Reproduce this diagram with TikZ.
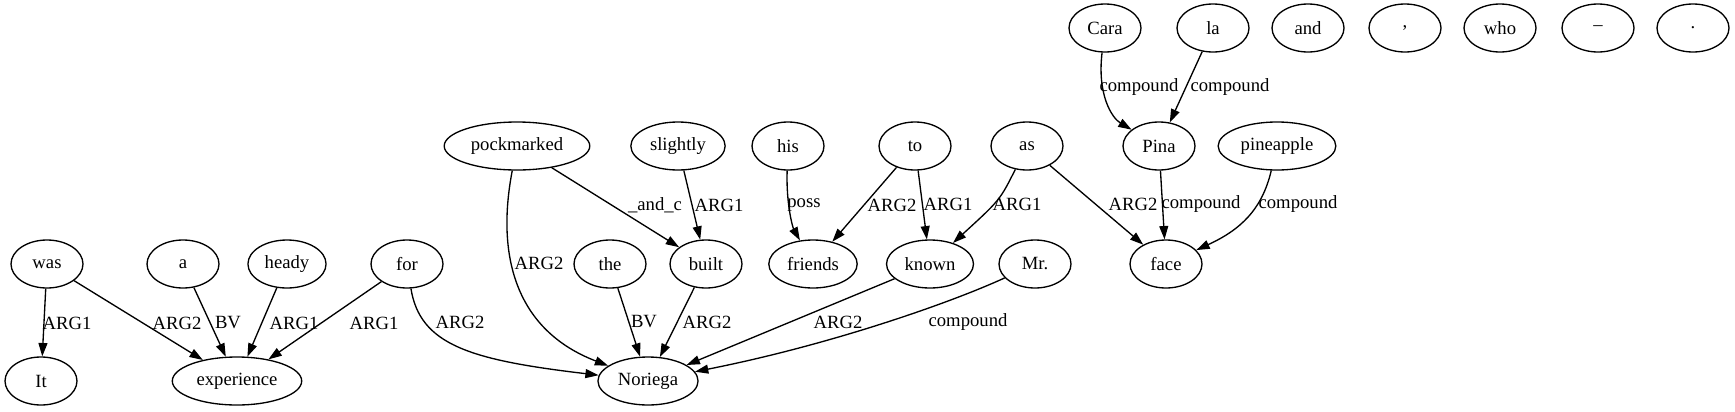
\documentclass[tikz,border=0pt]{standalone}
\usepackage{fontspec}
\setmainfont{Liberation Serif}
\usetikzlibrary{shapes.geometric}
\usetikzlibrary{arrows.meta}

\begin{document}
\begin{tikzpicture}[x=0.75pt,y=-0.75pt,
    word/.style={draw,ellipse,line width=1pt,minimum width=54pt,minimum height=36pt,
      inner xsep=4pt,inner ysep=2pt,font=\fontsize{14}{16}\selectfont},
    rel/.style={line width=1pt,-{Triangle[length=10pt,width=6.7pt]}},
    lbl/.style={inner sep=0pt,font=\fontsize{14}{16}\selectfont}]
    \useasboundingbox (0,0) rectangle (1735,411);
    \node[word] (Cara) at (1105,28) {Cara};
    \node[word] (la) at (1213,28) {la};
    \foreach \n/\w/\x in {and/and/1308,comma/{,}/1405,who/who/1500,dash/–/1598,dot/./1693}
    {
      \node[word] (\n) at (\x,28) {\w};
    }
    \node[word] (pockmarked) at (517,146) {pockmarked};
    \node[word] (slightly) at (678,146) {slightly};
    \node[word] (his) at (788,146) {his};
    \node[word] (to) at (915,146) {to};
    \node[word] (as) at (1027,146) {as};
    \node[word] (Pina) at (1159,146) {Pina};
    \node[word] (pineapple) at (1277,146) {pineapple};
    \node[word] (was) at (47,264) {was};
    \node[word] (a) at (183,264) {a};
    \node[word] (heady) at (287,264) {heady};
    \node[word] (for) at (407,264) {for};
    \node[word] (the) at (610,264) {the};
    \node[word] (built) at (706,264) {built};
    \node[word] (friends) at (813,264) {friends};
    \node[word] (known) at (930,264) {known};
    \node[word] (Mr) at (1035,264) {Mr.};
    \node[word] (face) at (1166,264) {face};
    \node[word] (It) at (41,381) {It};
    \node[word] (experience) at (237,381) {experience};
    \node[word] (Noriega) at (648,381) {Noriega};

    \draw[rel] (was) -- (It) node[lbl] at (67,323) {ARG1};
    \draw[rel] (was) -- (experience) node[lbl] at (177,323) {ARG2};
    \draw[rel] (a) -- (experience) node[lbl] at (228,323) {BV};
    \draw[rel] (heady) -- (experience) node[lbl] at (294,323) {ARG1};
    \draw[rel] (for) -- (experience) node[lbl] at (374,323) {ARG1};
    \draw[rel] (for) .. controls (420,345) and (470,360) .. (Noriega) node[lbl] at (460,322) {ARG2};
    \draw[rel] (pockmarked) .. controls (496,255) and (515,330) .. (Noriega) node[lbl] at (539,263) {ARG2};
    \draw[rel] (pockmarked) -- (built) node[lbl] at (655,205) {\_and\_c};
    \draw[rel] (slightly) -- (built) node[lbl] at (719,205) {ARG1};
    \draw[rel] (his) .. controls (786,205) and (793,228) .. (friends) node[lbl] at (804,205) {poss};
    \draw[rel] (to) -- (friends) node[lbl] at (892,205) {ARG2};
    \draw[rel] (to) -- (known) node[lbl] at (948,204) {ARG1};
    \draw[rel] (as) .. controls (1000,200) .. (known) node[lbl] at (1017,204) {ARG1};
    \draw[rel] (as) -- (face) node[lbl] at (1133,204) {ARG2};
    \draw[rel] (Cara) .. controls (1097,95) and (1112,118) .. (Pina) node[lbl] at (1139,87) {compound};
    \draw[rel] (la) -- (Pina) node[lbl] at (1230,87) {compound};
    \draw[rel] (Pina) -- (face) node[lbl] at (1201,204) {compound};
    \draw[rel] (pineapple) .. controls (1262,210) and (1240,230) .. (face) node[lbl] at (1298,204) {compound};
    \draw[rel] (the) -- (Noriega) node[lbl] at (644,322) {BV};
    \draw[rel] (built) -- (Noriega) node[lbl] at (707,322) {ARG2};
    \draw[rel] (known) -- (Noriega) node[lbl] at (838,322) {ARG2};
    \draw[rel] (Mr) .. controls (950,303) and (830,345) .. (Noriega) node[lbl] at (968,322) {compound};
\end{tikzpicture}
\end{document}
